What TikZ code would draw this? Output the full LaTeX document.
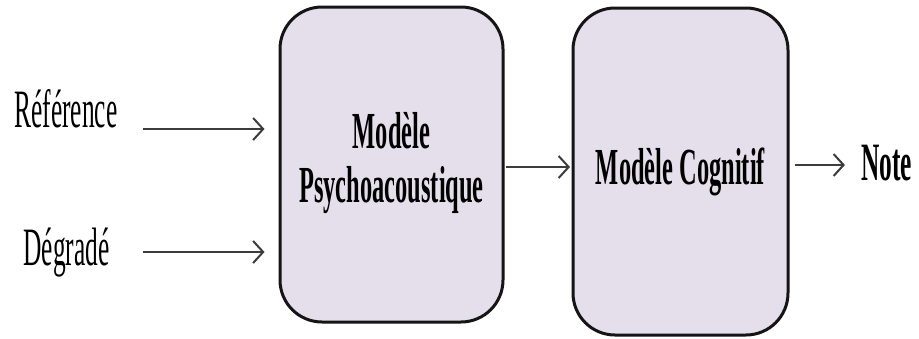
\documentclass[tikz,border=0pt]{standalone}
\usepackage{fontspec}
\setmainfont{Liberation Serif}
\usetikzlibrary{arrows.meta}
\definecolor{boxfill}{HTML}{E4DFEB}
\definecolor{boxline}{HTML}{151515}
\definecolor{arrowline}{HTML}{3C3C3C}
% narrow the type horizontally
\newcommand{\narrow}[1]{\scalebox{0.47}[1]{#1}}
\tikzset{
  block/.style={draw=boxline, line width=3pt, fill=boxfill, rounded corners=42pt,
    inner sep=0pt, align=center, font=\fontsize{52}{56}\selectfont\bfseries},
  label/.style={inner sep=0pt, anchor=base, font=\fontsize{54}{60}\selectfont},
  flow/.style={draw=arrowline, line width=2pt, -{Straight Barb[length=10pt,width=22pt,line width=2pt]}}
}
\begin{document}
\begin{tikzpicture}[x=1pt,y=-1pt]
  \useasboundingbox[fill=white] (0,0) rectangle (919,338);

  % processing blocks
  \node[block, minimum width=223pt, minimum height=315pt] (psy) at (391.5,164.5)
    {\narrow{\begin{tabular}{@{}c@{}}Modèle\\[-2pt]Psychoacoustique\end{tabular}}};
  \node[block, minimum width=215pt, minimum height=327pt] (cog) at (680.5,171.5)
    {\narrow{Modèle Cognitif}};

  % inputs and output
  \node[label] (ref) at (66,127) {\narrow{Référence}};
  \node[label] (deg) at (66.5,265) {\narrow{Dégradé}};
  \node[label, font=\fontsize{54}{60}\selectfont\bfseries] (note) at (886.5,180) {\narrow{Note}};

  % arrow starting points
  \coordinate (refout) at (143,129);
  \coordinate (degout) at (143,252);

  \draw[flow, shorten >=14pt] (refout) -- (refout -| psy.west);
  \draw[flow, shorten >=14pt] (degout) -- (degout -| psy.west);
  \draw[flow, shorten <=1.5pt, shorten >=1.5pt] ([yshift=-2.5pt]psy.east) -- ([yshift=-2.5pt]psy.east -| cog.west);
  \draw[flow, shorten <=5pt, shorten >=16pt] ([yshift=6.5pt]cog.east) -- ([yshift=6.5pt]cog.east -| note.west);
\end{tikzpicture}
\end{document}
